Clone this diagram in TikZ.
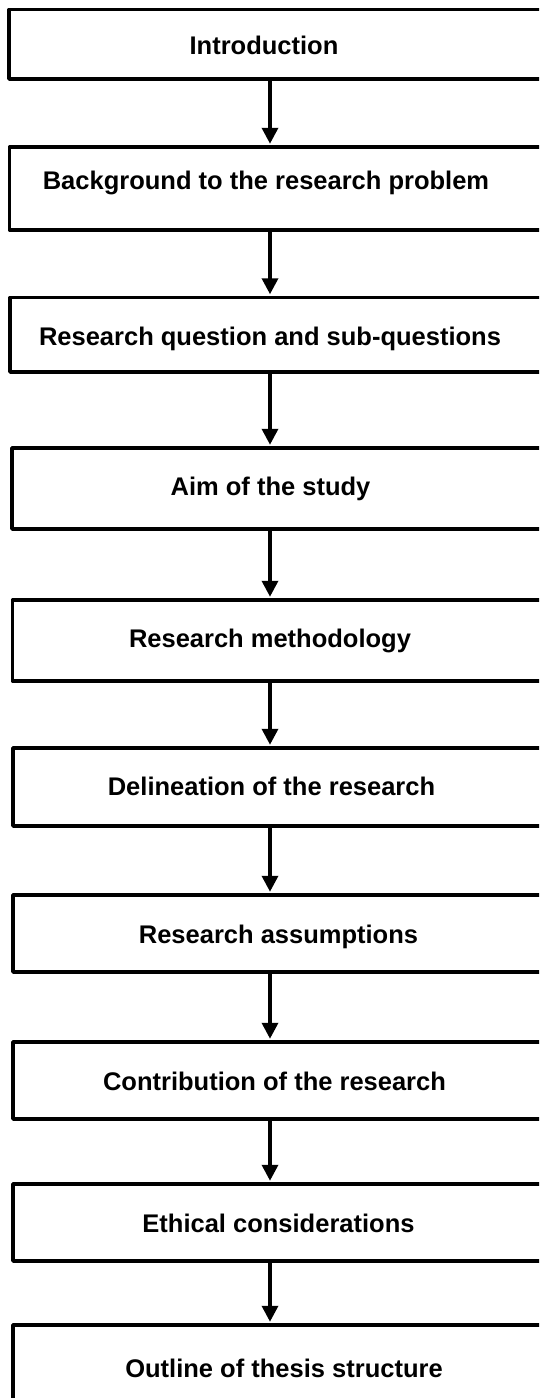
\documentclass[tikz,border=0pt]{standalone}
\usepackage{fontspec}
\setmainfont{Liberation Sans}
\usetikzlibrary{arrows.meta}
\begin{document}
\begin{tikzpicture}[x=1pt,y=-1pt,
  stagebox/.style={draw=black, line width=3.5pt, line join=round, fill=white, rectangle, inner sep=0pt},
  stagetext/.style={anchor=base, inner sep=0pt, font=\fontsize{25.5}{30}\selectfont\bfseries},
  flow/.style={line width=3.5pt, -{Triangle[width=16pt,length=16pt]}, shorten >=1.5pt}]
\useasboundingbox (0,0) rectangle (539,1398);
\clip (0,0) rectangle (539,1398);
\fill[white] (0,0) rectangle (539,1398);
\coordinate (axis) at (270,0);
% stage boxes: left edge, top, bottom; the right edge runs off the page
\foreach \name/\l/\t/\b in {b1/9/9.5/79, b2/9.5/147/230, b3/10/297.5/372,
    b4/12/448/529, b5/12.5/600/681, b6/13/748/826, b7/13/895/972,
    b8/13/1042/1119, b9/13/1184/1261, b10/13/1325/1430}
  \node[stagebox, minimum width={580-\l}, minimum height={\b-\t}]
    (\name) at ({(\l+580)/2},{(\t+\b)/2}) {};
% stage titles
\node[stagetext] (t1) at (264,54.5) {Introduction};
\node[stagetext] (t2) at (266,189) {Background to the research problem};
\node[stagetext] (t3) at (270,345) {Research question and sub-questions};
\node[stagetext] (t4) at (270.5,495.5) {Aim of the study};
\node[stagetext] (t5) at (270,647.5) {Research methodology};
\node[stagetext] (t6) at (271.5,795.5) {Delineation of the research};
\node[stagetext] (t7) at (278.5,943.5) {Research assumptions};
\node[stagetext] (t8) at (274.5,1090.5) {Contribution of the research};
\node[stagetext] (t9) at (278.5,1232.5) {Ethical considerations};
\node[stagetext] (t10) at (284,1377.5) {Outline of thesis structure};
% connectors
\foreach \a/\c in {b1/b2, b2/b3, b3/b4, b4/b5, b5/b6, b6/b7, b7/b8, b8/b9, b9/b10}
  \draw[flow] (\a.south -| axis) -- (\c.north -| axis);
\end{tikzpicture}
\end{document}
